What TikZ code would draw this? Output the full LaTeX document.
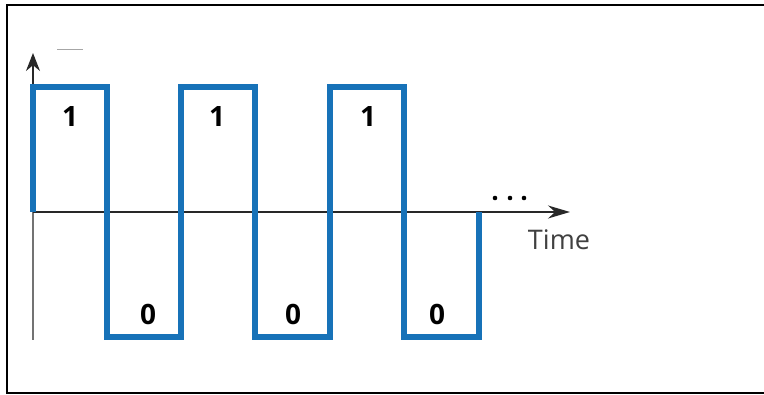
\documentclass[tikz,border=0pt]{standalone}
\usepackage{fontspec}
\setmainfont{Open Sans}
\usetikzlibrary{arrows.meta}
\definecolor{wave}{RGB}{23,114,184}
\definecolor{axisc}{RGB}{40,40,40}
\begin{document}
\begin{tikzpicture}[x=1pt,y=-1pt,
  frame/.style={line width=2.5pt,black},
  axisline/.style={line width=1.5pt,axisc},
  waveline/.style={line width=6pt,wave,line join=miter},
  bit/.style={font=\fontsize{28}{30}\selectfont\bfseries,text=black,inner sep=0pt},
  lbl/.style={font=\fontsize{27}{30}\selectfont,text=black!75,inner sep=0pt}]
\useasboundingbox (0,0) rectangle (764,395);
% frame (right side lies outside the image)
\draw[frame] (770,5) -- (7,5) -- (7,393) -- (770,393);
% axes
\coordinate (o) at (33,212);
\coordinate (ytop) at (33,53);
\coordinate (ybot) at (33,340);
\coordinate (xend) at (570,212);
\draw[axisline,black!55] (o) -- (ybot);
\draw[axisline,-{Stealth[length=18pt,width=14pt]}] (o) -- (ytop);
\draw[axisline,-{Stealth[length=22pt,width=13pt]}] (o) -- (xend);
% small mark near y-axis
\draw[line width=1pt,black!35] (57,50) -- (83,50);
% square wave
\draw[waveline] (33,212) -- (33,87) -- (107,87) -- (107,337) -- (181,337)
  -- (181,87) -- (255,87) -- (255,337) -- (330,337) -- (330,87) -- (404,87)
  -- (404,337) -- (479,337) -- (479,212);
% bit labels
\node[bit] (b1) at (70,117) {1};
\node[bit] (b2) at (217,117) {1};
\node[bit] (b3) at (368,117) {1};
\node[bit] (b4) at (148,314) {0};
\node[bit] (b5) at (293,314) {0};
\node[bit] (b6) at (437,314) {0};
% time label and dots
\node[lbl] (time) at (559,240) {Time};
\fill[black] (495,198) circle (2.3) (510,198) circle (2.3) (524,198) circle (2.3);
\end{tikzpicture}
\end{document}
